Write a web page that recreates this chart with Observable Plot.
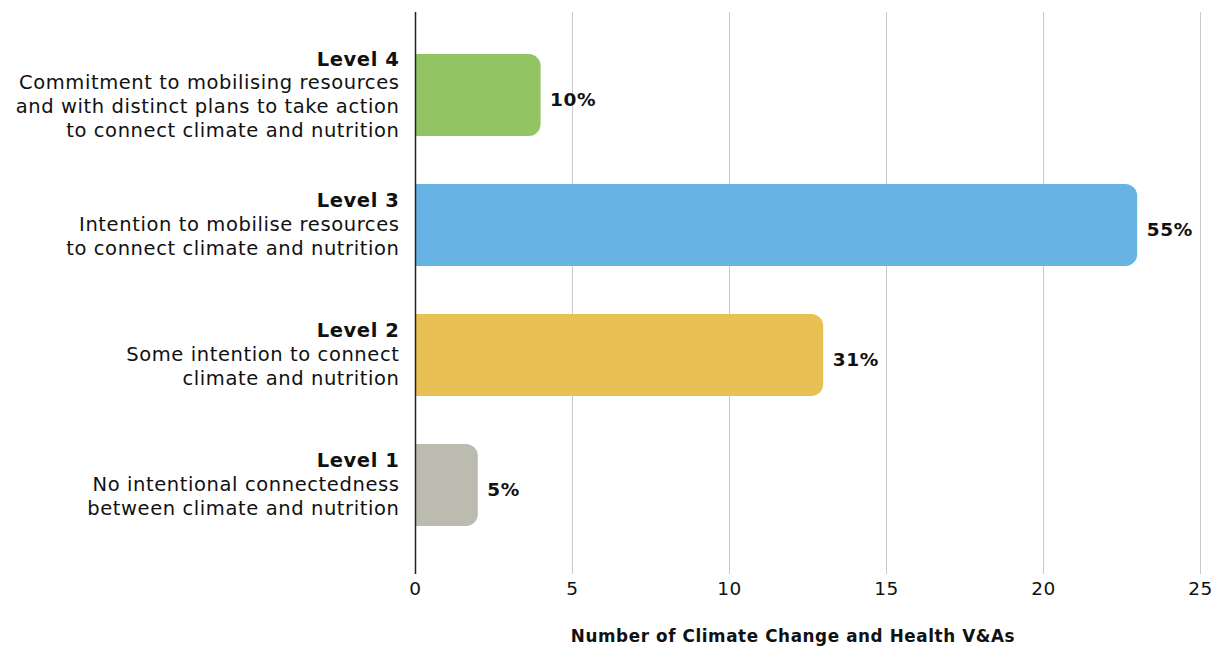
<!DOCTYPE html>
<html>
<head>
<meta charset="utf-8">
<script src="https://cdn.jsdelivr.net/npm/d3@7"></script>
<script src="https://cdn.jsdelivr.net/npm/@observablehq/plot@0.6"></script>
<style>
  html, body { margin: 0; padding: 0; background: #fff; }
  #chart svg { display: block; }
  #chart svg text { letter-spacing: 0.6px; }
</style>
</head>
<body>
<div id="chart"></div>
<script>
const levels = ["Level 4", "Level 3", "Level 2", "Level 1"];
const descriptions = [
  "Commitment to mobilising resources\nand with distinct plans to take action\nto connect climate and nutrition",
  "Intention to mobilise resources\nto connect climate and nutrition",
  "Some intention to connect\nclimate and nutrition",
  "No intentional connectedness\nbetween climate and nutrition"
];
const counts = [4, 23, 13, 2];
const percentLabels = ["10%", "55%", "31%", "5%"];
const barColors = ["#93c463", "#67b3e3", "#e9c054", "#bbbcaf"];
const xTicks = [0, 5, 10, 15, 20, 25];
const xTitle = "Number of Climate Change and Health V&As";

const data = levels.map((level, i) => {
  const descLines = descriptions[i].split("\n");
  const n = descLines.length + 1;
  return {
    level,
    count: counts[i],
    pct: percentLabels[i],
    head: level + "\n".repeat(n - 1),
    desc: "\n" + descLines.join("\n")
  };
});

const FONT = "'DejaVu Sans', Roboto, sans-serif";

const chart = Plot.plot({
  width: 1220,
  height: 646,
  marginTop: 12,
  marginBottom: 72,
  marginLeft: 415,
  marginRight: 20,
  style: { fontFamily: FONT, color: "#111", background: "#fff" },
  x: { domain: [0, 25], ticks: xTicks },
  y: { domain: levels, range: [53, 526], paddingInner: 0.37, paddingOuter: 0, axis: null },
  color: { domain: levels, range: barColors },
  marks: [
    Plot.gridX(xTicks, { stroke: "#c8c8c8", strokeOpacity: 1, strokeWidth: 1 }),
    Plot.barX(data, { x1: 0, x2: "count", y: "level", fill: "level", rx: 12 }),
    Plot.barX(data, { x1: 0, x2: d => d.count - 0.45, y: "level", fill: "level" }),
    Plot.ruleX([0], { stroke: "#222", strokeWidth: 1.5 }),
    Plot.text(data, { x: "count", y: "level", text: "pct", textAnchor: "start", dx: 9, dy: 5, fontSize: 18.5, fontWeight: "bold", fill: "#111" }),
    Plot.text(data, { x: 0, y: "level", text: "head", textAnchor: "end", lineAnchor: "middle", dx: -16, dy: -2, lineHeight: 1.215, fontSize: 19.5, fontWeight: "bold", fill: "#111" }),
    Plot.text(data, { x: 0, y: "level", text: "desc", textAnchor: "end", lineAnchor: "middle", dx: -16, dy: -2, lineHeight: 1.215, fontSize: 19.5, fill: "#111" }),
    Plot.axisX({ ticks: xTicks, tickSize: 0, tickPadding: 7, fontSize: 18.5, label: null, fill: "#111" }),
    Plot.text([xTitle], { frameAnchor: "bottom", dy: 67, dx: -15, fontSize: 16.8, fontWeight: "bold", fill: "#111" })
  ]
});
document.getElementById("chart").append(chart);
</script>
</body>
</html>
